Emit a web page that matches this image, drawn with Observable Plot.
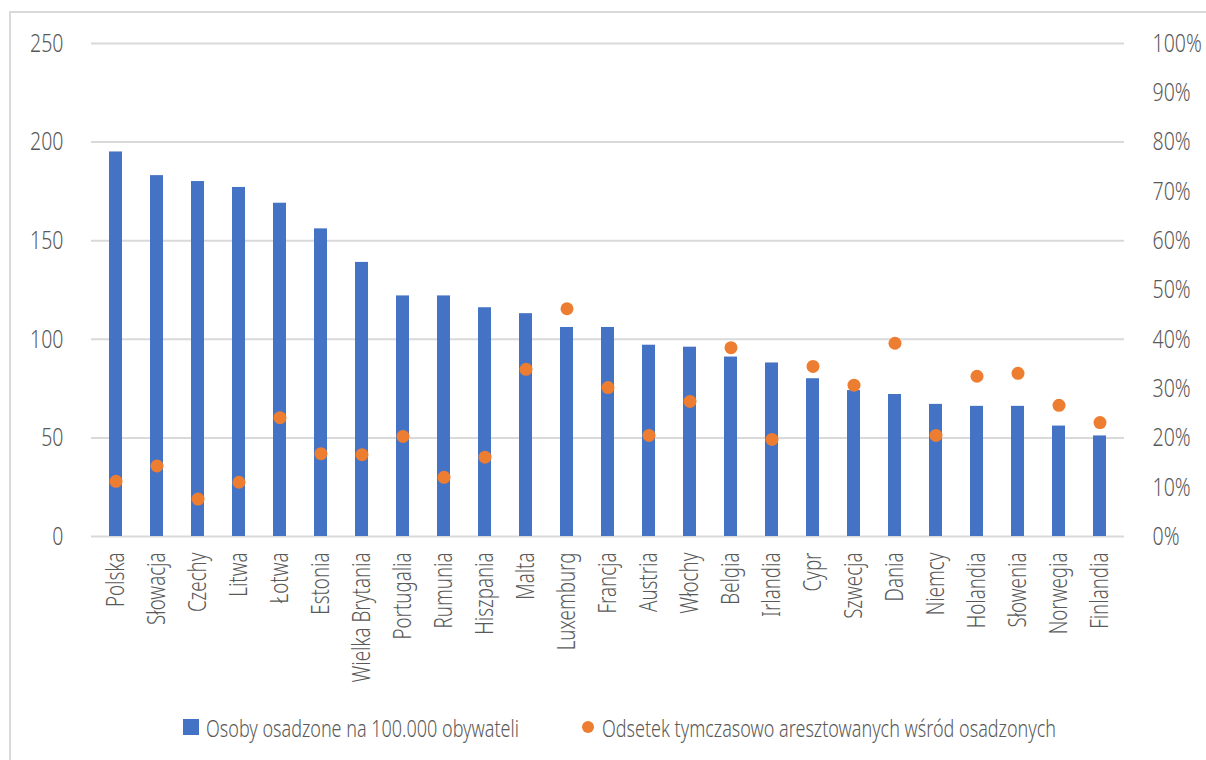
<!DOCTYPE html>
<html><head><meta charset="utf-8">
<script src="https://cdn.jsdelivr.net/npm/d3@7"></script>
<script src="https://cdn.jsdelivr.net/npm/@observablehq/plot@0.6"></script>
<style>
body{margin:0;background:#fff;}
#wrap{position:relative;width:1206px;height:760px;overflow:hidden;font-family:"Noto Sans",sans-serif;font-weight:300;color:#595959;}
#border{position:absolute;left:9px;top:11px;width:1300px;height:900px;border:2px solid #d9d9d9;}
#chart{position:absolute;left:0;top:0;}
#chart svg text{font-weight:300;}
.leg{position:absolute;top:713px;height:28px;font-size:24px;display:flex;align-items:center;white-space:nowrap;}
.leg .t{display:inline-block;transform:scaleX(0.75);transform-origin:0 50%;}
.sw{display:inline-block;width:16px;height:16px;background:#4472C4;margin-right:7px;}
.dt{display:inline-block;width:12px;height:12px;border-radius:50%;background:#ED7D31;margin-right:8px;}
</style></head>
<body>
<div id="wrap">
  <div id="border"></div>
  <div id="chart"></div>
  <div class="leg" style="left:183px"><span class="sw"></span><span class="t">Osoby osadzone na 100.000 obywateli</span></div>
  <div class="leg" style="left:582px"><span class="dt"></span><span class="t">Odsetek tymczasowo aresztowanych wśród osadzonych</span></div>
</div>
<script>
const countries = ["Polska","Słowacja","Czechy","Litwa","Łotwa","Estonia","Wielka Brytania","Portugalia","Rumunia","Hiszpania","Malta","Luxemburg","Francja","Austria","Włochy","Belgia","Irlandia","Cypr","Szwecja","Dania","Niemcy","Holandia","Słowenia","Norwegia","Finlandia"];
const prisoners = [195,183,180,177,169,156,139,122,122,116,113,106,106,97,96,91,88,80,74,72,67,66,66,56,51];
const pretrialPct = [11.2,14.3,7.6,11.0,24.1,16.8,16.6,20.3,12.0,16.1,33.9,46.2,30.2,20.5,27.4,38.3,19.7,34.5,30.7,39.2,20.5,32.5,33.1,26.6,23.1];
const leftTicks = [0,50,100,150,200,250];
const rightTickPct = [0,10,20,30,40,50,60,70,80,90,100];

const leftMax = 250, rightMax = 100;
const toLeft = p => p * leftMax / rightMax;
const data = countries.map((c,i)=>({c, v: prisoners[i], p: pretrialPct[i]}));
const font = '"Noto Sans",sans-serif';

const chart = Plot.plot({
  width: 1206, height: 700,
  marginLeft: 91, marginRight: 82, marginTop: 43, marginBottom: 164,
  style: {fontFamily: font, fontSize: "26px", color: "#595959", background: "transparent"},
  x: {domain: countries, paddingInner: 0.68, paddingOuter: 0.34, axis: null},
  y: {domain: [0, leftMax], axis: null},
  marks: [
    Plot.gridY({ticks: leftTicks, stroke: "#d9d9d9", strokeOpacity: 1, strokeWidth: 2}),
    Plot.axisY({ticks: leftTicks, anchor: "left", label: null, tickSize: 0, tickPadding: 28, fontSize: 26, fill: "#595959"}),
    Plot.axisY({ticks: rightTickPct.map(toLeft), anchor: "right", label: null, tickSize: 0, tickPadding: 28, fontSize: 26, fill: "#595959",
      tickFormat: d => `${Math.round(d * rightMax / leftMax)}%`}),
    Plot.axisX({tickRotate: -90, label: null, tickSize: 0, tickPadding: 16, fontSize: 25, fill: "#595959"}),
    Plot.barY(data, {x: "c", y: "v", fill: "#4472C4"}),
    Plot.dot(data, {x: "c", y: d => toLeft(d.p), r: 6.5, fill: "#ED7D31", stroke: null})
  ]
});
// condense the text horizontally (the reference uses a condensed face)
const SX = 0.75;
chart.querySelectorAll("text").forEach(t => {
  const x = +(t.getAttribute("x") || 0);
  t.setAttribute("x", x / SX);
  const tr = t.getAttribute("transform") || "";
  t.setAttribute("transform", (tr + ` scale(${SX},1)`).trim());
});
document.getElementById("chart").appendChild(chart);
</script>
</body></html>
